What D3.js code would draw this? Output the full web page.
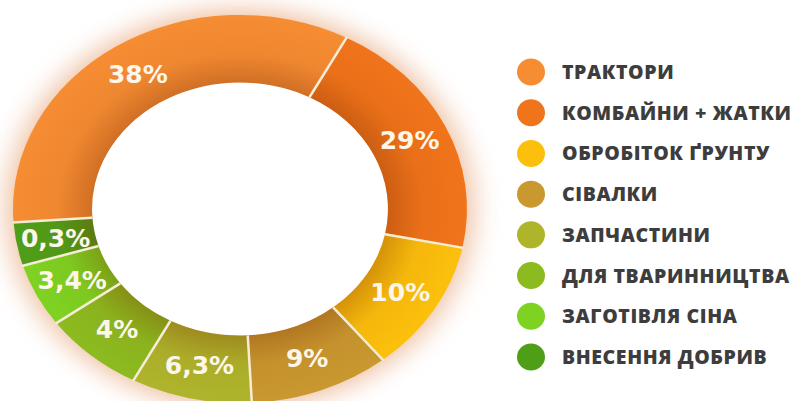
<!DOCTYPE html>
<html lang="uk">
<head>
  <meta charset="UTF-8">
  <title>Структура ринку</title>
  <script src="https://cdn.jsdelivr.net/npm/d3@7/dist/d3.min.js"></script>
  <style>
  body { margin: 0; background: #fff; }
  svg { display: block; }
  .slice-label {
    font-family: "DejaVu Sans", sans-serif;
    font-weight: bold;
    font-size: 25px;
    fill: #fdf6ea;
  }
  .legend-text {
    font-family: "Open Sans", sans-serif;
    font-weight: 800;
    font-size: 19.5px;
    letter-spacing: 0.6px;
    fill: #3d3d3d;
  }
  </style>
</head>
<body>
  <div id="chart"></div>
  <script>
  const categories = [
    'ТРАКТОРИ', 'КОМБАЙНИ + ЖАТКИ', 'ОБРОБІТОК ҐРУНТУ', 'СІВАЛКИ',
    'ЗАПЧАСТИНИ', 'ДЛЯ ТВАРИННИЦТВА', 'ЗАГОТІВЛЯ СІНА', 'ВНЕСЕННЯ ДОБРИВ'
  ];
  // printed shares
  const shareLabels = ['38%', '29%', '10%', '9%', '6,3%', '4%', '3,4%', '0,3%'];
  // slice sizes as drawn in the picture (degrees of the ring)
  const sliceSizes = [122, 73.5, 39.5, 36, 31, 26, 19, 13];
  const colors = ['#f68d33', '#f0741a', '#fcc00c', '#c9982f', '#aeb52b', '#8cbb1f', '#7ed322', '#4f9e18'];

  const width = 796, height = 401;
  const cx = 240, cy = 209;
  const outerR = 227, innerR = 148;
  const squash = 0.855;

  const svg = d3.select('#chart').append('svg')
    .attr('width', width).attr('height', height);

  const defs = svg.append('defs');
  defs.append('filter').attr('id', 'glow')
      .attr('x', '-30%').attr('y', '-30%').attr('width', '160%').attr('height', '160%')
    .append('feGaussianBlur').attr('stdDeviation', 14);

  const shade = defs.append('radialGradient').attr('id', 'shade')
    .attr('gradientUnits', 'userSpaceOnUse')
    .attr('cx', 0).attr('cy', 0).attr('r', outerR);
  shade.append('stop').attr('offset', innerR / outerR).attr('stop-color', '#7a2a00').attr('stop-opacity', 0.3);
  shade.append('stop').attr('offset', 0.8).attr('stop-color', '#7a2a00').attr('stop-opacity', 0.06);
  shade.append('stop').attr('offset', 1).attr('stop-color', '#7a2a00').attr('stop-opacity', 0);

  const pie = d3.pie().sort(null)
    .startAngle(-94 * Math.PI / 180)
    .endAngle(266 * Math.PI / 180)
    .value(d => d);
  const arcs = pie(sliceSizes);

  const arc = d3.arc().innerRadius(innerR).outerRadius(outerR);
  const labelArc = d3.arc().innerRadius((innerR + outerR) / 2).outerRadius((innerR + outerR) / 2);

  const ring = svg.append('g')
    .attr('transform', `translate(${cx},${cy}) scale(1,${squash})`);

  // soft orange glow behind the ring
  ring.append('circle')
    .attr('r', outerR + 6)
    .attr('fill', '#e39562')
    .attr('opacity', 0.6)
    .attr('filter', 'url(#glow)');
  ring.append('circle').attr('r', innerR + 1).attr('fill', '#fff');

  ring.selectAll('path.slice')
    .data(arcs)
    .join('path')
      .attr('class', 'slice')
      .attr('d', arc)
      .attr('fill', (d, i) => colors[i]);

  ring.append('path')
    .attr('d', d3.arc().innerRadius(innerR).outerRadius(outerR).startAngle(0).endAngle(2 * Math.PI)())
    .attr('fill', 'url(#shade)');

  // separators
  ring.selectAll('line.sep')
    .data(arcs)
    .join('line')
      .attr('class', 'sep')
      .attr('x1', d => innerR * Math.sin(d.startAngle))
      .attr('y1', d => -innerR * Math.cos(d.startAngle))
      .attr('x2', d => (outerR + 1) * Math.sin(d.startAngle))
      .attr('y2', d => -(outerR + 1) * Math.cos(d.startAngle))
      .attr('stroke', '#f7ecd6')
      .attr('stroke-width', 2.5)
      .attr('vector-effect', 'non-scaling-stroke');

  svg.append('g')
    .selectAll('text')
    .data(arcs)
    .join('text')
      .attr('class', 'slice-label')
      .attr('text-anchor', 'middle')
      .attr('dominant-baseline', 'central')
      .attr('x', d => cx + labelArc.centroid(d)[0])
      .attr('y', d => cy + labelArc.centroid(d)[1] * squash)
      .text((d, i) => shareLabels[i]);

  // legend
  const legendY = d3.scalePoint().domain(categories).range([72, 357]);
  const legend = svg.append('g')
    .selectAll('g')
    .data(categories)
    .join('g')
      .attr('transform', d => `translate(531,${legendY(d)})`);
  legend.append('ellipse')
    .attr('rx', 14).attr('ry', 13.5)
    .attr('fill', (d, i) => colors[i]);
  legend.append('text')
    .attr('class', 'legend-text')
    .attr('x', 31)
    .attr('dy', '0.36em')
    .text(d => d);
  </script>
</body>
</html>
